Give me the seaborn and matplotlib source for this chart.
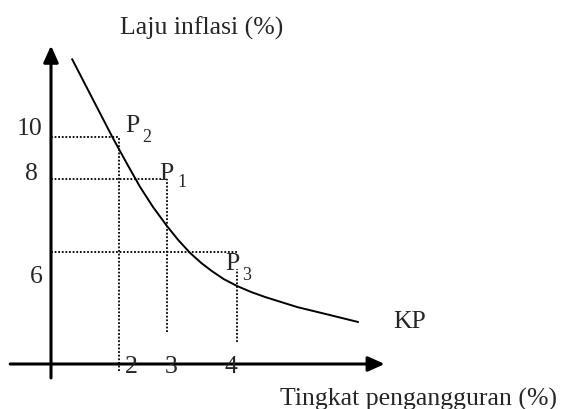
import numpy as np
import seaborn as sns
import matplotlib.pyplot as plt

### Data
unemployment = [2, 3, 4]          # Tingkat pengangguran (%)
inflation = [10, 8, 6]            # Laju inflasi (%)
point_names = ["2", "1", "3"]     # P2, P1, P3

# Phillips curve (KP)
curve_x = [0.62, 1.21, 1.82, 2.17, 2.44, 2.71, 3.0, 3.16, 3.33, 3.49, 3.64, 3.81, 4.0,
           4.2, 4.4, 4.63, 4.86, 5.33, 5.73]
curve_y = [13.71, 11.86, 9.95, 8.71, 7.78, 7.23, 6.71, 6.33, 5.95, 5.41, 4.98, 4.55, 4.18,
           3.86, 3.59, 3.32, 3.05, 2.62, 2.25]

# lower / upper ends of the vertical dotted lines
drop_low = [-0.37, 1.7, 1.2]
drop_high = [10, 8, 5.1]

### The sketch is not drawn to scale: piecewise axis scales
x_knots = [-2, 0, 2, 3, 4, 9]
x_pix = [-17, 51, 119, 167, 237, 587]
y_knots = [-3, 0, 6, 8, 10, 20]
y_pix = [-11, 45, 157, 230, 272, 482]

def fx(v):
    return np.interp(v, x_knots, x_pix)

def fx_inv(p):
    return np.interp(p, x_pix, x_knots)

def fy(v):
    return np.interp(v, y_knots, y_pix)

def fy_inv(p):
    return np.interp(p, y_pix, y_knots)

sns.set_style("white")
plt.rcParams['font.family'] = ['Liberation Serif', 'DejaVu Serif']

fig = plt.figure(figsize=(5.63, 4.10), dpi=100)
ax = fig.add_axes([0, 0, 1, 1])
ax.set_xscale('function', functions=(fx, fx_inv))
ax.set_yscale('function', functions=(fy, fy_inv))
ax.set_xlim(fx_inv(0), fx_inv(563))
ax.set_ylim(fy_inv(0), fy_inv(410))
ax.axis('off')

### Axes with arrows
ax.annotate('', xy=(6.11, 0), xytext=(-1.2, 0),
            arrowprops=dict(arrowstyle='-|>,head_length=1.0,head_width=0.45',
                            color='black', lw=2.2, shrinkA=0, shrinkB=0))
ax.annotate('', xy=(0, 14.35), xytext=(0, -0.75),
            arrowprops=dict(arrowstyle='-|>,head_length=1.0,head_width=0.45',
                            color='black', lw=2.2, shrinkA=0, shrinkB=0))

### Dotted guide lines
dot = dict(color='black', lw=1.3, linestyles=(0, (1, 1)))
ax.hlines(inflation, 0, unemployment, **dot)
ax.vlines(unemployment, drop_low, drop_high, **dot)

### Curve
sns.lineplot(x=curve_x, y=curve_y, sort=False, color='black', lw=1.4, ax=ax)

big = 18.5
small = 13

# y tick labels
y_off = [(-9, 3), (-13, 0), (-8, -30)]
for v, (dx, dy) in zip(inflation, y_off):
    ax.annotate(str(v), (0, v), xytext=(dx, dy), textcoords='offset pixels',
                ha='right', va='baseline', fontsize=big)

# x tick labels
x_off = [12, 4, -6]
for v, dx in zip(unemployment, x_off):
    ax.annotate(str(v), (v, 0), xytext=(dx, -8), textcoords='offset pixels',
                ha='center', va='baseline', fontsize=big)

# point labels
p_off = [(6, 6), (-8, 0), (-12, -17)]
s_off = [(23, -4), (10, -7), (5, -27)]
for u, v, name, po, so in zip(unemployment, inflation, point_names, p_off, s_off):
    ax.annotate('P', (u, v), xytext=po, textcoords='offset pixels',
                ha='left', va='baseline', fontsize=big)
    ax.annotate(name, (u, v), xytext=so, textcoords='offset pixels',
                ha='left', va='baseline', fontsize=small)

ax.annotate('KP', (curve_x[-1], curve_y[-1]), xytext=(35, -5), textcoords='offset pixels',
            ha='left', va='baseline', fontsize=big)

### Axis titles
fig.text(120 / 563, 1 - 35 / 410, 'Laju inflasi (%)', ha='left', va='baseline', fontsize=big)
fig.text(280 / 563, 1 - 406 / 410, 'Tingkat pengangguran (%)', ha='left', va='baseline', fontsize=big)

fig.savefig('out.png', dpi=100)
